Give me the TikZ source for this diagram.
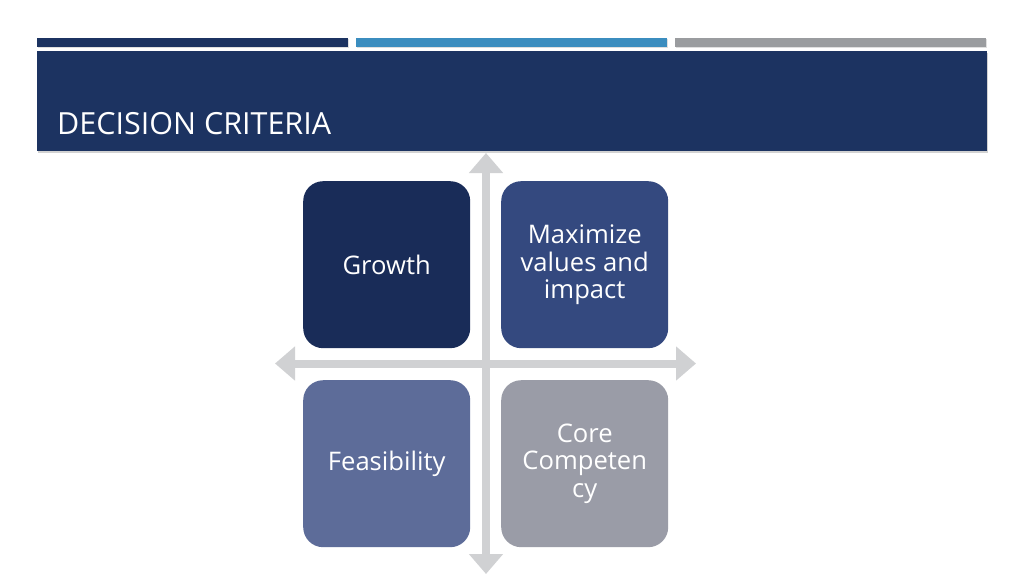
\documentclass[tikz,border=0pt]{standalone}
\usepackage{fontspec}
\setmainfont{Open Sans}
\usetikzlibrary{arrows.meta,shadows}
\definecolor{navy}{HTML}{1C3361}
\definecolor{barblue}{HTML}{3B8DBF}
\definecolor{bargrey}{HTML}{9A9C9F}
\definecolor{cgrowth}{HTML}{192C58}
\definecolor{cmax}{HTML}{34497F}
\definecolor{cfeas}{HTML}{5D6C99}
\definecolor{ccore}{HTML}{9A9CA7}
\definecolor{axisgrey}{HTML}{D0D1D3}
\tikzset{
  topbar/.style={inner sep=0pt, minimum height=9pt, minimum width=311pt, anchor=north west,
    drop shadow={opacity=0.25, shadow xshift=0.8pt, shadow yshift=-1.2pt}},
  quad/.style={rounded corners=20pt, minimum width=167pt, minimum height=167pt, inner sep=0pt,
    anchor=north west, text=white, align=center, font=\fontsize{25.6}{27.5}\selectfont},
  axis/.style={draw=axisgrey, line width=8pt, {Triangle[length=20pt,width=33pt]}-{Triangle[length=20pt,width=33pt]}},
}
\begin{document}
\begin{tikzpicture}[x=1pt,y=-1pt]
\useasboundingbox (0,0) rectangle (1024,575);
\fill[white] (0,0) rectangle (1024,575);
% top bars
\node[topbar, fill=navy] (bar1) at (37,38) {};
\node[topbar, fill=barblue] (bar2) at (356,38) {};
\node[topbar, fill=bargrey] (bar3) at (675,38) {};
% banner
\node[anchor=north west, fill=navy, minimum width=950pt, minimum height=100pt, inner sep=0pt,
  drop shadow={opacity=0.35, shadow xshift=1pt, shadow yshift=-1.5pt}] (banner) at (37,51) {};
\node[anchor=base west, text=white, font=\fontsize{30.5}{34}\selectfont, inner sep=0pt] (title) at (57,134) {DECISION CRITERIA};
% axes
\coordinate (vtop) at (486,153);
\coordinate (vbot) at (486,574);
\coordinate (hleft) at (275,363.5);
\coordinate (hright) at (696,363.5);
\draw[axis] (vtop) -- (vbot);
\draw[axis] (hleft) -- (hright);
% quadrants
\node[quad, fill=cgrowth] (growth) at (303,181) {Growth};
\node[quad, fill=cmax] (maximize) at (501,181) {Maximize\\values and\\impact};
\node[quad, fill=cfeas] (feas) at (303,380) {Feasibility};
\node[quad, fill=ccore] (core) at (501,380) {Core\\Competen\\cy};
\end{tikzpicture}
\end{document}
